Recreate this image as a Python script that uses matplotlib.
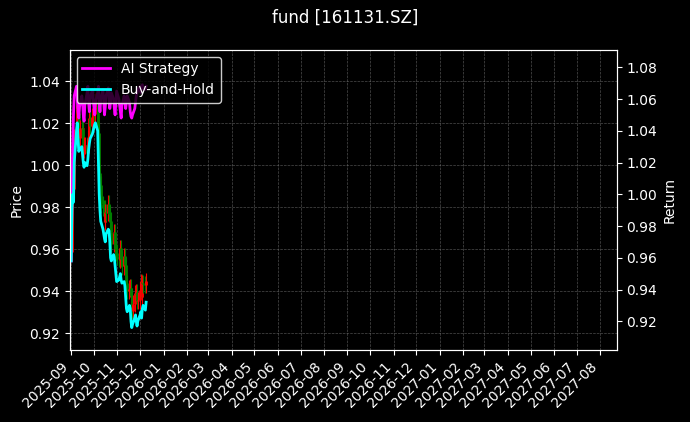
import numpy as np
import pandas as pd
import matplotlib
matplotlib.use("Agg")
import matplotlib.pyplot as plt
import matplotlib.dates as mdates
from matplotlib.ticker import MultipleLocator

plt.style.use("dark_background")

dates = pd.bdate_range("2025-09-01", "2025-12-09")

buy_hold = [
    0.958, 0.990, 1.000, 0.995, 1.020,
    1.040, 1.045, 1.035, 1.027, 1.028,
    1.030, 1.025, 1.020, 1.017, 1.020,
    1.018, 1.022, 1.028, 1.032, 1.035,
    1.038, 1.040,
    1.042, 1.044, 1.045,
    1.040, 1.020, 1.000, 0.990, 0.983,
    0.978, 0.975, 0.972, 0.970, 0.975,
    0.978, 0.977, 0.970, 0.960, 0.958,
    0.962, 0.960, 0.955, 0.950, 0.945,
    0.946, 0.948, 0.950, 0.946, 0.944,
    0.945, 0.942, 0.935, 0.928, 0.926,
    0.930, 0.928, 0.920, 0.916, 0.918,
    0.922, 0.924, 0.920, 0.917, 0.920,
    0.924, 0.926, 0.922, 0.928, 0.930,
    0.927, 0.932,
]

ai_strategy = [
    0.958, 1.000, 1.030, 1.050, 1.062,
    1.068, 1.060, 1.052, 1.048, 1.055,
    1.062, 1.058, 1.050, 1.046, 1.056,
    1.064, 1.068, 1.058, 1.052, 1.060,
    1.066, 1.060,
    1.055, 1.050, 1.058,
    1.064, 1.068, 1.058, 1.052, 1.060,
    1.066, 1.058, 1.050, 1.055, 1.062,
    1.067, 1.060, 1.054, 1.058, 1.064,
    1.060, 1.054, 1.050, 1.058, 1.065,
    1.060, 1.056, 1.052, 1.048, 1.056,
    1.062, 1.058, 1.054, 1.058, 1.062,
    1.058, 1.052, 1.049, 1.048, 1.050,
    1.054, 1.058, 1.062, 1.064, 1.066,
    1.068, 1.064, 1.066, 1.069, 1.067,
    1.066, 1.068,
]

# price closes sit a little above the buy-and-hold curve on the left axis
price_offset = [
    0.004, 0.010, 0.012, 0.006, 0.012,
    0.010, 0.008, 0.012, 0.006, 0.010,
    0.008, 0.012, 0.006, 0.010, 0.008,
    0.006, 0.010, 0.008, 0.012, 0.006,
    0.008, 0.010,
    0.006, 0.008, 0.010,
    0.012, 0.014, 0.010, 0.012, 0.008,
    0.010, 0.012, 0.008, 0.014, 0.010,
    0.012, 0.008, 0.010, 0.012, 0.008,
    0.010, 0.012, 0.008, 0.010, 0.012,
    0.010, 0.008, 0.012, 0.010, 0.008,
    0.012, 0.010, 0.008, 0.012, 0.010,
    0.008, 0.010, 0.012, 0.008, 0.010,
    0.012, 0.010, 0.014, 0.012, 0.010,
    0.012, 0.014, 0.010, 0.012, 0.010,
    0.012, 0.010,
]

close = 0.2273 + 0.759 * np.array(buy_hold) + np.array(price_offset)
opens = np.concatenate([[close[0]], close[:-1]])

fig = plt.figure(figsize=(6.9, 4.22), dpi=100)
fig.patch.set_facecolor("black")
ax = fig.add_axes([0.101, 0.171, 0.793, 0.711])
ax2 = ax.twinx()

for d, o, c in zip(dates, opens, close):
    col = "red" if c >= o else "green"
    lo, hi = min(o, c), max(o, c)
    ax.vlines(d, lo - 0.004, hi + 0.004, color=col, linewidth=0.8)
    ax.vlines(d, lo, max(hi, lo + 0.0005), color=col, linewidth=2.0)

l1, = ax2.plot(dates, ai_strategy, color="magenta", linewidth=2, label="AI Strategy")
l2, = ax2.plot(dates, buy_hold, color="cyan", linewidth=2, label="Buy-and-Hold")

ax.set_ylim(0.912, 1.055)
ax2.set_ylim(0.902, 1.091)
ax2.yaxis.set_major_locator(MultipleLocator(0.02))
ax.set_xlim(pd.Timestamp("2025-08-30"), pd.Timestamp("2027-08-23"))
ax.xaxis.set_major_locator(mdates.MonthLocator())
ax.xaxis.set_major_formatter(mdates.DateFormatter("%Y-%m"))
plt.setp(ax.get_xticklabels(), rotation=45, ha="right")
ax.set_ylabel("Price")
ax2.set_ylabel("Return")
ax.grid(True, linestyle="--", linewidth=0.5, color="gray", alpha=0.6)
ax2.legend(handles=[l1, l2], loc="upper left", facecolor="black", edgecolor="white")
fig.suptitle("fund [161131.SZ]")

fig.savefig("out.png", dpi=100)
